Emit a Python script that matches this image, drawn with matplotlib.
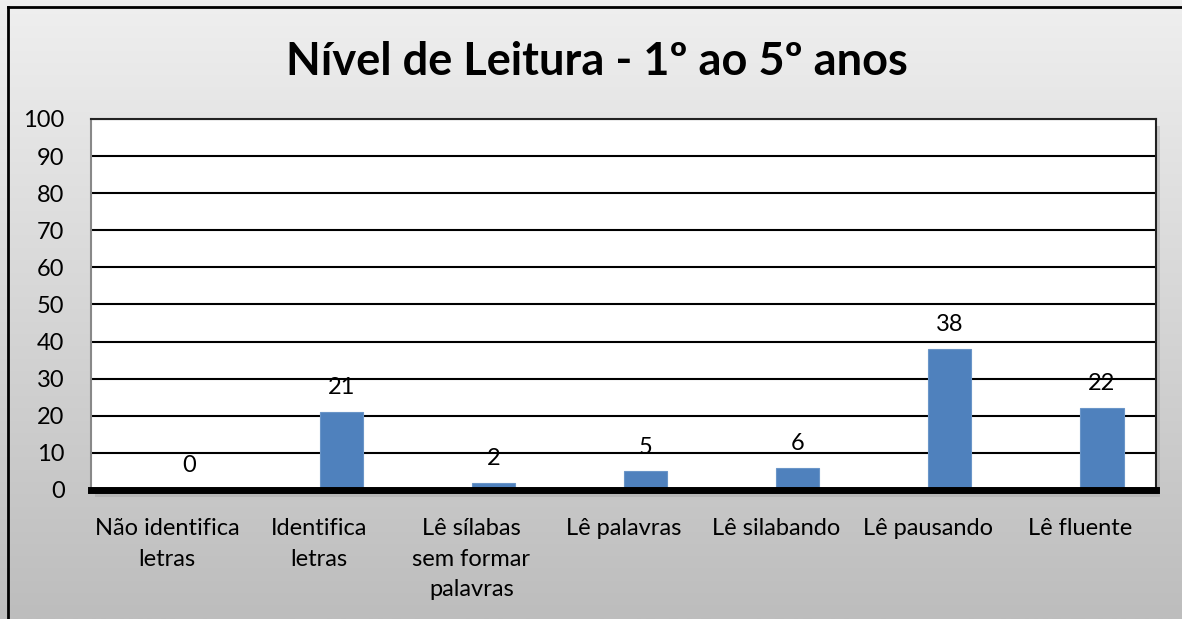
import matplotlib
matplotlib.use("Agg")
import matplotlib.pyplot as plt
import numpy as np
from matplotlib.colors import LinearSegmentedColormap

categories = ["Não identifica\nletras", "Identifica\nletras", "Lê sílabas\nsem formar\npalavras",
              "Lê palavras", "Lê silabando", "Lê pausando", "Lê fluente"]
values = [0, 21, 2, 5, 6, 38, 22]
yticks = [0, 10, 20, 30, 40, 50, 60, 70, 80, 90, 100]
title = "Nível de Leitura - 1º ao 5º anos"

W, H = 1182, 619
fig = plt.figure(figsize=(W / 100, H / 100), dpi=100)
plt.rcParams['font.family'] = ['Lato', 'DejaVu Sans']

# background gradient
bg = fig.add_axes([0, 0, 1, 1], zorder=-10)
grad = np.linspace(0, 1, 256).reshape(-1, 1)
cmap = LinearSegmentedColormap.from_list("g", ["#efefef", "#bdbdbd"])
bg.imshow(grad, aspect="auto", cmap=cmap, extent=[0, 1, 0, 1], origin="upper")
bg.set_xlim(0, 1); bg.set_ylim(0, 1)
bg.axis("off")
# outer border (top and left)
bg.plot([8 / W, 1], [1 - 7 / H, 1 - 7 / H], color="black", lw=2, transform=bg.transAxes)
bg.plot([8 / W, 8 / W], [0, 1 - 7 / H], color="black", lw=2, transform=bg.transAxes)

# shadow of plot area
sh = fig.add_axes([(91 + 4) / W, (H - 490 - 7) / H, (1156 - 91) / W, (490 - 119) / H], zorder=-5)
sh.set_facecolor("#9a9a9a")
sh.patch.set_alpha(0.35)
for s in sh.spines.values():
    s.set_visible(False)
sh.set_xticks([]); sh.set_yticks([])

ax = fig.add_axes([91 / W, (H - 490) / H, (1156 - 91) / W, (490 - 119) / H])
ax.set_facecolor("white")
x = np.arange(len(categories))
depth = 0.145  # 3D depth offset of the columns
ax.set_xlim(-0.5, len(categories) - 0.5)
ax.set_ylim(0, 100)
ax.set_yticks(yticks)
ax.yaxis.grid(True, color="black", lw=1.5)
ax.set_axisbelow(True)
ax.bar(x + depth, values, width=0.283, color="#4F81BD", edgecolor="#6a95c8", lw=0.8, zorder=3)
for xi, v in zip(x, values):
    ax.annotate(str(v), (xi + depth, v), xytext=(0, 10), textcoords="offset points",
                ha="center", va="bottom", fontsize=17, color="black")
ax.set_xticks(x)
ax.set_xticklabels(categories, fontsize=17, linespacing=1.58, va="top")
ax.tick_params(axis="x", length=0, pad=20)
ax.tick_params(axis="y", length=0, pad=19, labelsize=17)
for s in ["left", "top", "right"]:
    ax.spines[s].set_color("#222222")
    ax.spines[s].set_linewidth(1.5)
ax.spines["left"].set_color("#888888")
ax.spines["bottom"].set_visible(False)
ax.axhline(0, color="black", lw=5, zorder=5, clip_on=False)

fig.text(597 / W, 1 - 62 / H, title, ha="center", va="center", fontsize=32.5, fontweight="bold")

fig.savefig("out.png", dpi=100)
